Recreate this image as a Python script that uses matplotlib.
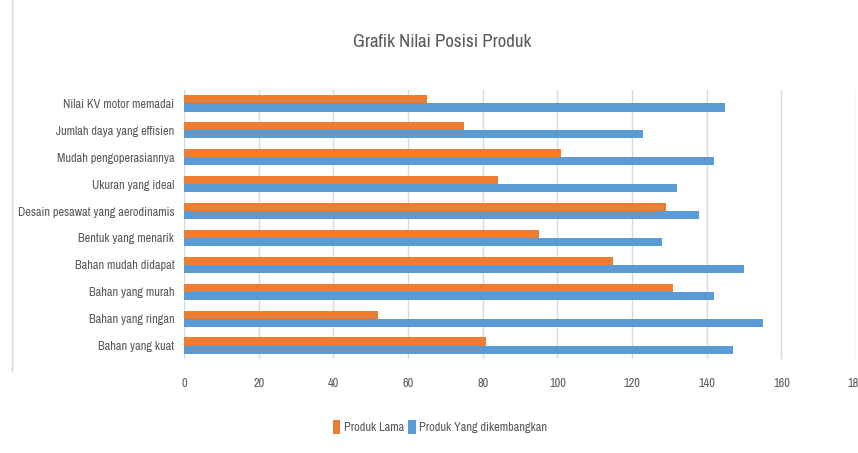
import numpy as np
import matplotlib.pyplot as plt
from matplotlib import font_manager

# Data (top to bottom)
kategori = [
    "Nilai KV motor memadai",
    "Jumlah daya yang effisien",
    "Mudah pengoperasiannya",
    "Ukuran yang ideal",
    "Desain pesawat yang aerodinamis",
    "Bentuk yang menarik",
    "Bahan mudah didapat",
    "Bahan yang murah",
    "Bahan yang ringan",
    "Bahan yang kuat",
]
produk_lama = [65, 75, 101, 84, 129, 95, 115, 131, 52, 81]
produk_baru = [145, 123, 142, 132, 138, 128, 150, 142, 155, 147]
x_ticks = [0, 20, 40, 60, 80, 100, 120, 140, 160, 180]

# use a narrow face if one is installed, otherwise Roboto
nama = sorted({f.name for f in font_manager.fontManager.ttflist})
sempit = [n for n in nama if "Narrow" in n or "Condensed" in n]
if sempit:
    plt.rcParams['font.family'] = [sempit[0], 'DejaVu Sans']
    fs_lbl, fs_title = 8.9, 13.5
else:
    plt.rcParams['font.family'] = ['Roboto', 'DejaVu Sans']
    fs_lbl, fs_title = 8, 12.5
abu = "#595959"

fig = plt.figure(figsize=(8.58, 4.53), dpi=100)
ax = fig.add_axes([0.2145, 0.2075, 0.7832, 0.5938])

y = np.arange(len(kategori))
h = 0.3
ax.barh(y - h / 2, produk_lama, height=h, color="#ED7D31", label="Produk Lama", zorder=3)
ax.barh(y + h / 2, produk_baru, height=h, color="#5B9BD5", label="Produk Yang dikembangkan", zorder=3)

ax.set_xlim(0, 180)
ax.set_ylim(len(kategori) - 0.5, -0.5)
ax.set_xticks(x_ticks)
ax.set_xticklabels([str(t) for t in x_ticks], color=abu, fontsize=fs_lbl)
ax.tick_params(length=0, pad=14, axis='x')
ax.set_yticks(y)
ax.set_yticklabels(kategori, color=abu, fontsize=fs_lbl)
ax.tick_params(length=0, pad=7, axis='y')
ax.grid(axis='x', color="#D9D9D9", linewidth=1, zorder=0)
for s in ax.spines.values():
    s.set_visible(False)

fig.suptitle("Grafik Nilai Posisi Produk", x=0.515, y=0.925, fontsize=fs_title, color=abu)

fig.legend(loc="center", bbox_to_anchor=(0.513, 0.057), ncol=2, frameon=False,
           fontsize=fs_lbl, labelcolor=abu, handlelength=0.6, handleheight=1.3,
           handletextpad=0.3, columnspacing=0.3)

# light chart border on the left
fig.add_artist(plt.Line2D([0.014, 0.014], [0.18, 1.0], color="#D9D9D9", lw=1))

fig.savefig("out.png", dpi=100)
